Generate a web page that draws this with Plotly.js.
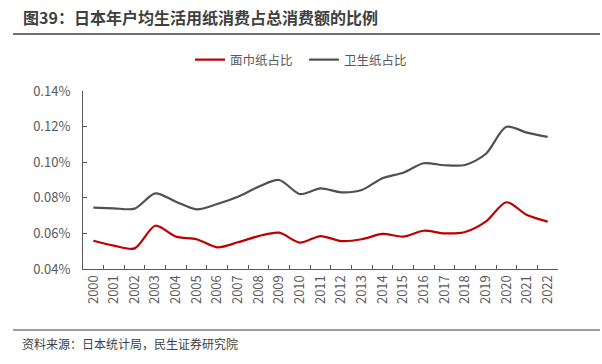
<!DOCTYPE html>
<html>
<head>
<meta charset="utf-8">
<script src="https://cdn.plot.ly/plotly-3.0.1.min.js"></script>
<style>html,body{margin:0;padding:0;background:#fff;}#chart{width:602px;height:364px;}</style>
</head>
<body>
<div id="chart"></div>
<script>
const years = ['2000','2001','2002','2003','2004','2005','2006','2007','2008','2009','2010','2011','2012','2013','2014','2015','2016','2017','2018','2019','2020','2021','2022'];
const facialTissue = [0.0559,0.0531,0.0516,0.0643,0.0582,0.0567,0.0522,0.0550,0.0585,0.0604,0.0548,0.0585,0.0557,0.0567,0.0597,0.0582,0.0615,0.0600,0.0608,0.0666,0.0775,0.0703,0.0666];
const toiletPaper = [0.0745,0.0741,0.0739,0.0825,0.0778,0.0735,0.0765,0.0806,0.0862,0.0900,0.0821,0.0853,0.0831,0.0844,0.0910,0.0941,0.0994,0.0983,0.0984,0.1046,0.1199,0.1166,0.1142];
const yTicks = [0.04,0.06,0.08,0.10,0.12,0.14];

const FONT = '"Noto Sans CJK SC", "Noto Sans", sans-serif';
const L = 83, R = 558, T = 91, B = 269;
const px = x => (x - L) / (R - L);
const py = y => (B - y) / (B - T);

const traces = [
  {x: years, y: facialTissue, name: '面巾纸占比', type: 'scatter', mode: 'lines', legend: 'legend',
   line: {color: '#C00000', width: 2.2, shape: 'spline', smoothing: 0.8}},
  {x: years, y: toiletPaper, name: '卫生纸占比', type: 'scatter', mode: 'lines', legend: 'legend2',
   line: {color: '#505050', width: 2.2, shape: 'spline', smoothing: 0.8}}
];

const legendBase = {orientation: 'h', yanchor: 'middle', xanchor: 'left', y: py(60),
                    font: {size: 12.5, color: '#595959'}, itemwidth: 30, borderwidth: 0, bgcolor: 'rgba(0,0,0,0)'};

const layout = {
  width: 602, height: 364,
  margin: {l: L, r: 602 - R, t: T, b: 364 - B, pad: 0},
  paper_bgcolor: '#fff', plot_bgcolor: '#fff',
  font: {family: FONT, size: 12, color: '#595959'},
  showlegend: true,
  legend: Object.assign({}, legendBase, {x: px(190)}),
  legend2: Object.assign({}, legendBase, {x: px(304)}),
  xaxis: {type: 'category', range: [-0.5, 22.5], tickson: 'boundaries',
          ticks: 'inside', ticklen: 4, tickcolor: '#595959', tickwidth: 1,
          showline: true, linecolor: '#595959', linewidth: 1,
          showgrid: false, zeroline: false, tickangle: -90,
          tickfont: {size: 13, color: '#595959'}},
  yaxis: {range: [0.04, 0.14], tickvals: yTicks, ticktext: yTicks.map(v => v.toFixed(2) + '%'),
          ticks: 'inside', ticklen: 4, tickcolor: '#595959', tickwidth: 1,
          showline: true, linecolor: '#595959', linewidth: 1,
          showgrid: false, zeroline: false, ticklabelstandoff: 9,
          tickfont: {size: 13, color: '#595959'}},
  shapes: [
    {type: 'line', xref: 'paper', yref: 'paper', x0: px(13), x1: px(600), y0: py(34), y1: py(34),
     line: {color: '#404040', width: 1.5}},
    {type: 'line', xref: 'paper', yref: 'paper', x0: px(13), x1: px(600), y0: py(330), y1: py(330),
     line: {color: '#404040', width: 1.2}}
  ],
  annotations: [
    {text: '<b>图39：日本年户均生活用纸消费占总消费额的比例</b>', xref: 'paper', yref: 'paper',
     x: px(21), y: py(17), xanchor: 'left', yanchor: 'middle', showarrow: false,
     font: {family: FONT, size: 16, color: '#404040'}},
    {text: '资料来源：日本统计局，民生证券研究院', xref: 'paper', yref: 'paper',
     x: px(20), y: py(343), xanchor: 'left', yanchor: 'middle', showarrow: false,
     font: {family: FONT, size: 12, color: '#404040'}}
  ]
};

Plotly.newPlot('chart', traces, layout, {displayModeBar: false, staticPlot: true});
</script>
</body>
</html>
